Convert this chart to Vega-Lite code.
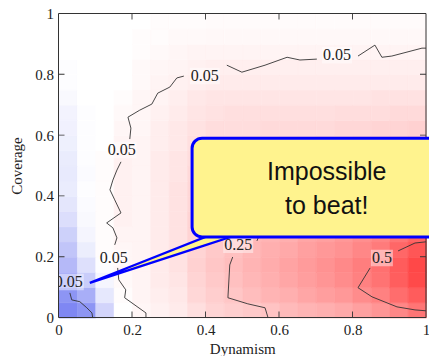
{
"$schema": "https://vega.github.io/schema/vega-lite/v6.json",
"width": 367.5, "height": 304,
"autosize": {"type": "none"},
"padding": {"left": 58.5, "top": 13.5, "right": 3, "bottom": 38.5},
"background": "white",
"config": {
"view": {"stroke": null},
"axis": {"domain": false, "ticks": false, "grid": false, "labelFlush": false, "labelOverlap": false, "labelFont": "Liberation Serif", "labelFontSize": 15, "labelColor": "#222222", "labelPadding": 5, "titleFont": "Liberation Serif", "titleFontSize": 15, "titleFontWeight": "normal", "titleColor": "#222222"},
"axisX": {"titlePadding": 4},
"axisY": {"titlePadding": 10}
},
"datasets": {
"heat": [
{"x":0.025,"y":0.025,"v":-0.62},{"x":0.075,"y":0.025,"v":-0.55},{"x":0.125,"y":0.025,"v":-0.22},{"x":0.175,"y":0.025,"v":0.0},{"x":0.225,"y":0.025,"v":0.03},{"x":0.275,"y":0.025,"v":0.05},{"x":0.325,"y":0.025,"v":0.07},{"x":0.375,"y":0.025,"v":0.11},{"x":0.425,"y":0.025,"v":0.15},{"x":0.475,"y":0.025,"v":0.17},{"x":0.525,"y":0.025,"v":0.19},{"x":0.575,"y":0.025,"v":0.21},{"x":0.625,"y":0.025,"v":0.24},{"x":0.675,"y":0.025,"v":0.26},{"x":0.725,"y":0.025,"v":0.28},{"x":0.775,"y":0.025,"v":0.30},{"x":0.825,"y":0.025,"v":0.33},{"x":0.875,"y":0.025,"v":0.37},{"x":0.925,"y":0.025,"v":0.42},{"x":0.975,"y":0.025,"v":0.48},
{"x":0.025,"y":0.075,"v":-0.55},{"x":0.075,"y":0.075,"v":-0.42},{"x":0.125,"y":0.075,"v":-0.12},{"x":0.175,"y":0.075,"v":0.01},{"x":0.225,"y":0.075,"v":0.04},{"x":0.275,"y":0.075,"v":0.06},{"x":0.325,"y":0.075,"v":0.08},{"x":0.375,"y":0.075,"v":0.14},{"x":0.425,"y":0.075,"v":0.17},{"x":0.475,"y":0.075,"v":0.20},{"x":0.525,"y":0.075,"v":0.23},{"x":0.575,"y":0.075,"v":0.26},{"x":0.625,"y":0.075,"v":0.28},{"x":0.675,"y":0.075,"v":0.31},{"x":0.725,"y":0.075,"v":0.34},{"x":0.775,"y":0.075,"v":0.36},{"x":0.825,"y":0.075,"v":0.40},{"x":0.875,"y":0.075,"v":0.44},{"x":0.925,"y":0.075,"v":0.51},{"x":0.975,"y":0.075,"v":0.57},
{"x":0.025,"y":0.125,"v":-0.45},{"x":0.075,"y":0.125,"v":-0.26},{"x":0.125,"y":0.125,"v":-0.05},{"x":0.175,"y":0.125,"v":0.02},{"x":0.225,"y":0.125,"v":0.04},{"x":0.275,"y":0.125,"v":0.07},{"x":0.325,"y":0.125,"v":0.09},{"x":0.375,"y":0.125,"v":0.15},{"x":0.425,"y":0.125,"v":0.19},{"x":0.475,"y":0.125,"v":0.22},{"x":0.525,"y":0.125,"v":0.25},{"x":0.575,"y":0.125,"v":0.28},{"x":0.625,"y":0.125,"v":0.31},{"x":0.675,"y":0.125,"v":0.34},{"x":0.725,"y":0.125,"v":0.37},{"x":0.775,"y":0.125,"v":0.40},{"x":0.825,"y":0.125,"v":0.44},{"x":0.875,"y":0.125,"v":0.49},{"x":0.925,"y":0.125,"v":0.56},{"x":0.975,"y":0.125,"v":0.63},
{"x":0.025,"y":0.175,"v":-0.36},{"x":0.075,"y":0.175,"v":-0.16},{"x":0.125,"y":0.175,"v":-0.01},{"x":0.175,"y":0.175,"v":0.03},{"x":0.225,"y":0.175,"v":0.04},{"x":0.275,"y":0.175,"v":0.07},{"x":0.325,"y":0.175,"v":0.10},{"x":0.375,"y":0.175,"v":0.16},{"x":0.425,"y":0.175,"v":0.20},{"x":0.475,"y":0.175,"v":0.23},{"x":0.525,"y":0.175,"v":0.26},{"x":0.575,"y":0.175,"v":0.29},{"x":0.625,"y":0.175,"v":0.32},{"x":0.675,"y":0.175,"v":0.35},{"x":0.725,"y":0.175,"v":0.38},{"x":0.775,"y":0.175,"v":0.41},{"x":0.825,"y":0.175,"v":0.45},{"x":0.875,"y":0.175,"v":0.50},{"x":0.925,"y":0.175,"v":0.57},{"x":0.975,"y":0.175,"v":0.64},
{"x":0.025,"y":0.225,"v":-0.3},{"x":0.075,"y":0.225,"v":-0.09},{"x":0.125,"y":0.225,"v":0.01},{"x":0.175,"y":0.225,"v":0.03},{"x":0.225,"y":0.225,"v":0.04},{"x":0.275,"y":0.225,"v":0.07},{"x":0.325,"y":0.225,"v":0.10},{"x":0.375,"y":0.225,"v":0.15},{"x":0.425,"y":0.225,"v":0.19},{"x":0.475,"y":0.225,"v":0.22},{"x":0.525,"y":0.225,"v":0.25},{"x":0.575,"y":0.225,"v":0.28},{"x":0.625,"y":0.225,"v":0.30},{"x":0.675,"y":0.225,"v":0.33},{"x":0.725,"y":0.225,"v":0.36},{"x":0.775,"y":0.225,"v":0.38},{"x":0.825,"y":0.225,"v":0.42},{"x":0.875,"y":0.225,"v":0.46},{"x":0.925,"y":0.225,"v":0.53},{"x":0.975,"y":0.225,"v":0.59},
{"x":0.025,"y":0.275,"v":-0.24},{"x":0.075,"y":0.275,"v":-0.05},{"x":0.125,"y":0.275,"v":0.01},{"x":0.175,"y":0.275,"v":0.04},{"x":0.225,"y":0.275,"v":0.04},{"x":0.275,"y":0.275,"v":0.07},{"x":0.325,"y":0.275,"v":0.10},{"x":0.375,"y":0.275,"v":0.15},{"x":0.425,"y":0.275,"v":0.19},{"x":0.475,"y":0.275,"v":0.21},{"x":0.525,"y":0.275,"v":0.24},{"x":0.575,"y":0.275,"v":0.26},{"x":0.625,"y":0.275,"v":0.28},{"x":0.675,"y":0.275,"v":0.31},{"x":0.725,"y":0.275,"v":0.33},{"x":0.775,"y":0.275,"v":0.36},{"x":0.825,"y":0.275,"v":0.39},{"x":0.875,"y":0.275,"v":0.43},{"x":0.925,"y":0.275,"v":0.48},{"x":0.975,"y":0.275,"v":0.54},
{"x":0.025,"y":0.325,"v":-0.17},{"x":0.075,"y":0.325,"v":-0.03},{"x":0.125,"y":0.325,"v":0.01},{"x":0.175,"y":0.325,"v":0.05},{"x":0.225,"y":0.325,"v":0.04},{"x":0.275,"y":0.325,"v":0.07},{"x":0.325,"y":0.325,"v":0.10},{"x":0.375,"y":0.325,"v":0.15},{"x":0.425,"y":0.325,"v":0.18},{"x":0.475,"y":0.325,"v":0.20},{"x":0.525,"y":0.325,"v":0.22},{"x":0.575,"y":0.325,"v":0.24},{"x":0.625,"y":0.325,"v":0.26},{"x":0.675,"y":0.325,"v":0.28},{"x":0.725,"y":0.325,"v":0.30},{"x":0.775,"y":0.325,"v":0.32},{"x":0.825,"y":0.325,"v":0.34},{"x":0.875,"y":0.325,"v":0.37},{"x":0.925,"y":0.325,"v":0.42},{"x":0.975,"y":0.325,"v":0.47},
{"x":0.025,"y":0.375,"v":-0.13},{"x":0.075,"y":0.375,"v":-0.02},{"x":0.125,"y":0.375,"v":0.01},{"x":0.175,"y":0.375,"v":0.05},{"x":0.225,"y":0.375,"v":0.04},{"x":0.275,"y":0.375,"v":0.07},{"x":0.325,"y":0.375,"v":0.10},{"x":0.375,"y":0.375,"v":0.14},{"x":0.425,"y":0.375,"v":0.17},{"x":0.475,"y":0.375,"v":0.19},{"x":0.525,"y":0.375,"v":0.20},{"x":0.575,"y":0.375,"v":0.22},{"x":0.625,"y":0.375,"v":0.23},{"x":0.675,"y":0.375,"v":0.25},{"x":0.725,"y":0.375,"v":0.26},{"x":0.775,"y":0.375,"v":0.28},{"x":0.825,"y":0.375,"v":0.30},{"x":0.875,"y":0.375,"v":0.32},{"x":0.925,"y":0.375,"v":0.36},{"x":0.975,"y":0.375,"v":0.39},
{"x":0.025,"y":0.425,"v":-0.1},{"x":0.075,"y":0.425,"v":-0.01},{"x":0.125,"y":0.425,"v":0.01},{"x":0.175,"y":0.425,"v":0.05},{"x":0.225,"y":0.425,"v":0.04},{"x":0.275,"y":0.425,"v":0.07},{"x":0.325,"y":0.425,"v":0.10},{"x":0.375,"y":0.425,"v":0.14},{"x":0.425,"y":0.425,"v":0.16},{"x":0.475,"y":0.425,"v":0.18},{"x":0.525,"y":0.425,"v":0.19},{"x":0.575,"y":0.425,"v":0.20},{"x":0.625,"y":0.425,"v":0.21},{"x":0.675,"y":0.425,"v":0.22},{"x":0.725,"y":0.425,"v":0.24},{"x":0.775,"y":0.425,"v":0.25},{"x":0.825,"y":0.425,"v":0.26},{"x":0.875,"y":0.425,"v":0.28},{"x":0.925,"y":0.425,"v":0.31},{"x":0.975,"y":0.425,"v":0.34},
{"x":0.025,"y":0.475,"v":-0.11},{"x":0.075,"y":0.475,"v":-0.02},{"x":0.125,"y":0.475,"v":0.01},{"x":0.175,"y":0.475,"v":0.05},{"x":0.225,"y":0.475,"v":0.04},{"x":0.275,"y":0.475,"v":0.07},{"x":0.325,"y":0.475,"v":0.09},{"x":0.375,"y":0.475,"v":0.13},{"x":0.425,"y":0.475,"v":0.15},{"x":0.475,"y":0.475,"v":0.16},{"x":0.525,"y":0.475,"v":0.17},{"x":0.575,"y":0.475,"v":0.18},{"x":0.625,"y":0.475,"v":0.18},{"x":0.675,"y":0.475,"v":0.19},{"x":0.725,"y":0.475,"v":0.20},{"x":0.775,"y":0.475,"v":0.21},{"x":0.825,"y":0.475,"v":0.22},{"x":0.875,"y":0.475,"v":0.24},{"x":0.925,"y":0.475,"v":0.26},{"x":0.975,"y":0.475,"v":0.28},
{"x":0.025,"y":0.525,"v":-0.1},{"x":0.075,"y":0.525,"v":-0.01},{"x":0.125,"y":0.525,"v":0.01},{"x":0.175,"y":0.525,"v":0.05},{"x":0.225,"y":0.525,"v":0.04},{"x":0.275,"y":0.525,"v":0.07},{"x":0.325,"y":0.525,"v":0.09},{"x":0.375,"y":0.525,"v":0.12},{"x":0.425,"y":0.525,"v":0.14},{"x":0.475,"y":0.525,"v":0.15},{"x":0.525,"y":0.525,"v":0.16},{"x":0.575,"y":0.525,"v":0.16},{"x":0.625,"y":0.525,"v":0.17},{"x":0.675,"y":0.525,"v":0.18},{"x":0.725,"y":0.525,"v":0.18},{"x":0.775,"y":0.525,"v":0.19},{"x":0.825,"y":0.525,"v":0.20},{"x":0.875,"y":0.525,"v":0.21},{"x":0.925,"y":0.525,"v":0.22},{"x":0.975,"y":0.525,"v":0.24},
{"x":0.025,"y":0.575,"v":-0.08},{"x":0.075,"y":0.575,"v":-0.01},{"x":0.125,"y":0.575,"v":0.0},{"x":0.175,"y":0.575,"v":0.04},{"x":0.225,"y":0.575,"v":0.04},{"x":0.275,"y":0.575,"v":0.06},{"x":0.325,"y":0.575,"v":0.08},{"x":0.375,"y":0.575,"v":0.11},{"x":0.425,"y":0.575,"v":0.13},{"x":0.475,"y":0.575,"v":0.13},{"x":0.525,"y":0.575,"v":0.14},{"x":0.575,"y":0.575,"v":0.14},{"x":0.625,"y":0.575,"v":0.15},{"x":0.675,"y":0.575,"v":0.15},{"x":0.725,"y":0.575,"v":0.16},{"x":0.775,"y":0.575,"v":0.16},{"x":0.825,"y":0.575,"v":0.17},{"x":0.875,"y":0.575,"v":0.17},{"x":0.925,"y":0.575,"v":0.18},{"x":0.975,"y":0.575,"v":0.20},
{"x":0.025,"y":0.625,"v":-0.07},{"x":0.075,"y":0.625,"v":-0.01},{"x":0.125,"y":0.625,"v":0.0},{"x":0.175,"y":0.625,"v":0.03},{"x":0.225,"y":0.625,"v":0.03},{"x":0.275,"y":0.625,"v":0.06},{"x":0.325,"y":0.625,"v":0.08},{"x":0.375,"y":0.625,"v":0.10},{"x":0.425,"y":0.625,"v":0.12},{"x":0.475,"y":0.625,"v":0.12},{"x":0.525,"y":0.625,"v":0.12},{"x":0.575,"y":0.625,"v":0.13},{"x":0.625,"y":0.625,"v":0.13},{"x":0.675,"y":0.625,"v":0.13},{"x":0.725,"y":0.625,"v":0.13},{"x":0.775,"y":0.625,"v":0.14},{"x":0.825,"y":0.625,"v":0.14},{"x":0.875,"y":0.625,"v":0.15},{"x":0.925,"y":0.625,"v":0.15},{"x":0.975,"y":0.625,"v":0.16},
{"x":0.025,"y":0.675,"v":-0.06},{"x":0.075,"y":0.675,"v":-0.01},{"x":0.125,"y":0.675,"v":0.0},{"x":0.175,"y":0.675,"v":0.02},{"x":0.225,"y":0.675,"v":0.03},{"x":0.275,"y":0.675,"v":0.05},{"x":0.325,"y":0.675,"v":0.07},{"x":0.375,"y":0.675,"v":0.09},{"x":0.425,"y":0.675,"v":0.10},{"x":0.475,"y":0.675,"v":0.11},{"x":0.525,"y":0.675,"v":0.11},{"x":0.575,"y":0.675,"v":0.11},{"x":0.625,"y":0.675,"v":0.11},{"x":0.675,"y":0.675,"v":0.11},{"x":0.725,"y":0.675,"v":0.11},{"x":0.775,"y":0.675,"v":0.12},{"x":0.825,"y":0.675,"v":0.12},{"x":0.875,"y":0.675,"v":0.12},{"x":0.925,"y":0.675,"v":0.13},{"x":0.975,"y":0.675,"v":0.13},
{"x":0.025,"y":0.725,"v":-0.03},{"x":0.075,"y":0.725,"v":0.0},{"x":0.125,"y":0.725,"v":0.0},{"x":0.175,"y":0.725,"v":0.01},{"x":0.225,"y":0.725,"v":0.03},{"x":0.275,"y":0.725,"v":0.04},{"x":0.325,"y":0.725,"v":0.06},{"x":0.375,"y":0.725,"v":0.08},{"x":0.425,"y":0.725,"v":0.09},{"x":0.475,"y":0.725,"v":0.09},{"x":0.525,"y":0.725,"v":0.09},{"x":0.575,"y":0.725,"v":0.09},{"x":0.625,"y":0.725,"v":0.09},{"x":0.675,"y":0.725,"v":0.09},{"x":0.725,"y":0.725,"v":0.09},{"x":0.775,"y":0.725,"v":0.09},{"x":0.825,"y":0.725,"v":0.09},{"x":0.875,"y":0.725,"v":0.10},{"x":0.925,"y":0.725,"v":0.10},{"x":0.975,"y":0.725,"v":0.10},
{"x":0.025,"y":0.775,"v":-0.01},{"x":0.075,"y":0.775,"v":0.0},{"x":0.125,"y":0.775,"v":0.0},{"x":0.175,"y":0.775,"v":0.0},{"x":0.225,"y":0.775,"v":0.02},{"x":0.275,"y":0.775,"v":0.04},{"x":0.325,"y":0.775,"v":0.05},{"x":0.375,"y":0.775,"v":0.06},{"x":0.425,"y":0.775,"v":0.07},{"x":0.475,"y":0.775,"v":0.07},{"x":0.525,"y":0.775,"v":0.07},{"x":0.575,"y":0.775,"v":0.07},{"x":0.625,"y":0.775,"v":0.07},{"x":0.675,"y":0.775,"v":0.07},{"x":0.725,"y":0.775,"v":0.07},{"x":0.775,"y":0.775,"v":0.07},{"x":0.825,"y":0.775,"v":0.07},{"x":0.875,"y":0.775,"v":0.07},{"x":0.925,"y":0.775,"v":0.07},{"x":0.975,"y":0.775,"v":0.07},
{"x":0.025,"y":0.825,"v":-0.01},{"x":0.075,"y":0.825,"v":0.0},{"x":0.125,"y":0.825,"v":0.0},{"x":0.175,"y":0.825,"v":0.0},{"x":0.225,"y":0.825,"v":0.02},{"x":0.275,"y":0.825,"v":0.03},{"x":0.325,"y":0.825,"v":0.04},{"x":0.375,"y":0.825,"v":0.05},{"x":0.425,"y":0.825,"v":0.055},{"x":0.475,"y":0.825,"v":0.055},{"x":0.525,"y":0.825,"v":0.055},{"x":0.575,"y":0.825,"v":0.055},{"x":0.625,"y":0.825,"v":0.055},{"x":0.675,"y":0.825,"v":0.055},{"x":0.725,"y":0.825,"v":0.055},{"x":0.775,"y":0.825,"v":0.055},{"x":0.825,"y":0.825,"v":0.055},{"x":0.875,"y":0.825,"v":0.055},{"x":0.925,"y":0.825,"v":0.055},{"x":0.975,"y":0.825,"v":0.055},
{"x":0.025,"y":0.875,"v":0.0},{"x":0.075,"y":0.875,"v":0.0},{"x":0.125,"y":0.875,"v":0.0},{"x":0.175,"y":0.875,"v":0.0},{"x":0.225,"y":0.875,"v":0.01},{"x":0.275,"y":0.875,"v":0.02},{"x":0.325,"y":0.875,"v":0.03},{"x":0.375,"y":0.875,"v":0.04},{"x":0.425,"y":0.875,"v":0.04},{"x":0.475,"y":0.875,"v":0.04},{"x":0.525,"y":0.875,"v":0.04},{"x":0.575,"y":0.875,"v":0.04},{"x":0.625,"y":0.875,"v":0.04},{"x":0.675,"y":0.875,"v":0.04},{"x":0.725,"y":0.875,"v":0.04},{"x":0.775,"y":0.875,"v":0.04},{"x":0.825,"y":0.875,"v":0.04},{"x":0.875,"y":0.875,"v":0.04},{"x":0.925,"y":0.875,"v":0.04},{"x":0.975,"y":0.875,"v":0.04},
{"x":0.025,"y":0.925,"v":0.0},{"x":0.075,"y":0.925,"v":0.0},{"x":0.125,"y":0.925,"v":0.0},{"x":0.175,"y":0.925,"v":0.0},{"x":0.225,"y":0.925,"v":0.01},{"x":0.275,"y":0.925,"v":0.01},{"x":0.325,"y":0.925,"v":0.02},{"x":0.375,"y":0.925,"v":0.02},{"x":0.425,"y":0.925,"v":0.025},{"x":0.475,"y":0.925,"v":0.025},{"x":0.525,"y":0.925,"v":0.025},{"x":0.575,"y":0.925,"v":0.025},{"x":0.625,"y":0.925,"v":0.025},{"x":0.675,"y":0.925,"v":0.025},{"x":0.725,"y":0.925,"v":0.025},{"x":0.775,"y":0.925,"v":0.025},{"x":0.825,"y":0.925,"v":0.025},{"x":0.875,"y":0.925,"v":0.025},{"x":0.925,"y":0.925,"v":0.025},{"x":0.975,"y":0.925,"v":0.025},
{"x":0.025,"y":0.975,"v":0.0},{"x":0.075,"y":0.975,"v":0.0},{"x":0.125,"y":0.975,"v":0.0},{"x":0.175,"y":0.975,"v":0.0},{"x":0.225,"y":0.975,"v":0.0},{"x":0.275,"y":0.975,"v":0.01},{"x":0.325,"y":0.975,"v":0.01},{"x":0.375,"y":0.975,"v":0.01},{"x":0.425,"y":0.975,"v":0.015},{"x":0.475,"y":0.975,"v":0.015},{"x":0.525,"y":0.975,"v":0.015},{"x":0.575,"y":0.975,"v":0.015},{"x":0.625,"y":0.975,"v":0.015},{"x":0.675,"y":0.975,"v":0.015},{"x":0.725,"y":0.975,"v":0.015},{"x":0.775,"y":0.975,"v":0.015},{"x":0.825,"y":0.975,"v":0.015},{"x":0.875,"y":0.975,"v":0.015},{"x":0.925,"y":0.975,"v":0.015},{"x":0.975,"y":0.975,"v":0.015}
],
"cont": [
{"s":"A1","i":0,"x":0.238,"y":0.0},{"s":"A1","i":1,"x":0.238,"y":0.015},{"s":"A1","i":2,"x":0.180,"y":0.065},{"s":"A1","i":3,"x":0.183,"y":0.091},{"s":"A1","i":4,"x":0.164,"y":0.124},{"s":"A1","i":5,"x":0.161,"y":0.163},
{"s":"A2","i":0,"x":0.153,"y":0.239},{"s":"A2","i":1,"x":0.159,"y":0.262},{"s":"A2","i":2,"x":0.148,"y":0.295},{"s":"A2","i":3,"x":0.131,"y":0.311},{"s":"A2","i":4,"x":0.170,"y":0.344},{"s":"A2","i":5,"x":0.153,"y":0.387},{"s":"A2","i":6,"x":0.140,"y":0.420},{"s":"A2","i":7,"x":0.148,"y":0.452},{"s":"A2","i":8,"x":0.159,"y":0.485},{"s":"A2","i":9,"x":0.170,"y":0.512},
{"s":"A3","i":0,"x":0.194,"y":0.587},{"s":"A3","i":1,"x":0.197,"y":0.623},{"s":"A3","i":2,"x":0.189,"y":0.659},{"s":"A3","i":3,"x":0.221,"y":0.682},{"s":"A3","i":4,"x":0.254,"y":0.702},{"s":"A3","i":5,"x":0.270,"y":0.738},{"s":"A3","i":6,"x":0.303,"y":0.758},{"s":"A3","i":7,"x":0.322,"y":0.788},{"s":"A3","i":8,"x":0.341,"y":0.794},
{"s":"A4","i":0,"x":0.458,"y":0.830},{"s":"A4","i":1,"x":0.499,"y":0.807},{"s":"A4","i":2,"x":0.562,"y":0.830},{"s":"A4","i":3,"x":0.622,"y":0.856},{"s":"A4","i":4,"x":0.657,"y":0.847},{"s":"A4","i":5,"x":0.703,"y":0.850},
{"s":"A5","i":0,"x":0.815,"y":0.860},{"s":"A5","i":1,"x":0.861,"y":0.896},{"s":"A5","i":2,"x":0.880,"y":0.856},{"s":"A5","i":3,"x":0.907,"y":0.860},{"s":"A5","i":4,"x":0.989,"y":0.886},{"s":"A5","i":5,"x":1.0,"y":0.886},
{"s":"B","i":0,"x":0.031,"y":0.081},{"s":"B","i":1,"x":0.036,"y":0.058},{"s":"B","i":2,"x":0.058,"y":0.052},{"s":"B","i":3,"x":0.077,"y":0.032},{"s":"B","i":4,"x":0.091,"y":0.015},{"s":"B","i":5,"x":0.093,"y":0.0},
{"s":"C0","i":0,"x":0.540,"y":0.252},{"s":"C0","i":1,"x":0.546,"y":0.270},
{"s":"C1","i":0,"x":0.474,"y":0.199},{"s":"C1","i":1,"x":0.466,"y":0.173},{"s":"C1","i":2,"x":0.461,"y":0.065},{"s":"C1","i":3,"x":0.515,"y":0.045},{"s":"C1","i":4,"x":0.562,"y":0.032},{"s":"C1","i":5,"x":0.570,"y":0.0},
{"s":"D1","i":0,"x":1.0,"y":0.249},{"s":"D1","i":1,"x":0.970,"y":0.245},{"s":"D1","i":2,"x":0.924,"y":0.219},
{"s":"D2","i":0,"x":0.848,"y":0.163},{"s":"D2","i":1,"x":0.815,"y":0.098},{"s":"D2","i":2,"x":0.853,"y":0.068},{"s":"D2","i":3,"x":0.921,"y":0.035},{"s":"D2","i":4,"x":0.970,"y":0.025},{"s":"D2","i":5,"x":1.0,"y":0.022}
],
"labels": [
{"t":"0.05","x":0.758,"y":0.863},{"t":"0.05","x":0.398,"y":0.794},{"t":"0.05","x":0.172,"y":0.551},{"t":"0.05","x":0.150,"y":0.196},{"t":"0.05","x":0.028,"y":0.117},{"t":"0.25","x":0.489,"y":0.239},{"t":"0.5","x":0.880,"y":0.196}
],
"tv": [
{"x":0.2,"y":0},{"x":0.4,"y":0},{"x":0.6,"y":0},{"x":0.8,"y":0},{"x":0.2,"y":1},{"x":0.4,"y":1},{"x":0.6,"y":1},{"x":0.8,"y":1}
],
"th": [
{"x":0,"y":0.2},{"x":0,"y":0.4},{"x":0,"y":0.6},{"x":0,"y":0.8},{"x":1,"y":0.2},{"x":1,"y":0.4},{"x":1,"y":0.6},{"x":1,"y":0.8}
],
"frame": [
{"x":0,"x2":1,"y":0,"y2":0},{"x":0,"x2":1,"y":1,"y2":1},{"x":0,"x2":0,"y":0,"y2":1},{"x":1,"x2":1,"y":0,"y2":1}
],
"wedge": [
{"x":0.0852,"y":0.114,"y2":0.114},{"x":0.400,"y":0.265,"y2":0.238},{"x":0.468,"y":0.265,"y2":0.265}
],
"box": [
{"x":0.3635,"x2":1.098,"y":0.265,"y2":0.590}
],
"boxtext": [
{"t":"Impossible","x":0.730,"y":0.452},{"t":"to beat!","x":0.730,"y":0.341}
]
},
"layer": [
{
"data": {"name": "frame"},
"mark": {"type": "rule", "opacity": 0},
"encoding": {
"x": {"field": "x", "type": "quantitative", "scale": {"domain": [0, 1], "nice": false, "zero": false}, "title": "Dynamism", "axis": {"values": [0, 0.2, 0.4, 0.6, 0.8, 1], "format": "~g"}},
"x2": {"field": "x2"},
"y": {"field": "y", "type": "quantitative", "scale": {"domain": [0, 1], "nice": false, "zero": false}, "title": "Coverage", "axis": {"values": [0, 0.2, 0.4, 0.6, 0.8, 1], "format": "~g"}},
"y2": {"field": "y2"}
}
},
{
"data": {"name": "heat"},
"mark": {"type": "rect", "strokeWidth": 0.6},
"encoding": {
"x": {"field": "x", "type": "quantitative", "bin": {"extent": [0, 1], "step": 0.05}, "scale": {"domain": [0, 1]}},
"y": {"field": "y", "type": "quantitative", "bin": {"extent": [0, 1], "step": 0.05}, "scale": {"domain": [0, 1]}},
"fill": {"field": "v", "type": "quantitative", "scale": {"domain": [-0.75, 0, 0.75], "range": ["#646ef0", "#ffffff", "#ff2828"], "interpolate": "rgb"}, "legend": null},
"stroke": {"field": "v", "type": "quantitative", "scale": {"domain": [-0.75, 0, 0.75], "range": ["#646ef0", "#ffffff", "#ff2828"], "interpolate": "rgb"}, "legend": null}
}
},
{
"data": {"name": "cont"},
"mark": {"type": "line", "color": "#333333", "strokeWidth": 0.9, "clip": true},
"encoding": {
"x": {"field": "x", "type": "quantitative"},
"y": {"field": "y", "type": "quantitative"},
"detail": {"field": "s"},
"order": {"field": "i", "type": "quantitative"}
}
},
{
"data": {"name": "labels"},
"mark": {"type": "point", "filled": true, "color": "#ffffff", "opacity": 0.45, "strokeWidth": 0, "clip": true},
"encoding": {
"x": {"field": "x", "type": "quantitative"},
"y": {"field": "y", "type": "quantitative"},
"shape": {"condition": {"test": "datum.t === '0.5'", "value": "M-1,-0.75L1,-0.75L1,0.75L-1,0.75Z"}, "value": "M-1,-0.55L1,-0.55L1,0.55L-1,0.55Z"},
"size": {"condition": {"test": "datum.t === '0.5'", "value": 484}, "value": 900}
}
},
{
"data": {"name": "labels"},
"mark": {"type": "text", "font": "Liberation Serif", "fontSize": 16, "color": "#222222", "align": "center", "baseline": "middle", "clip": true},
"encoding": {
"x": {"field": "x", "type": "quantitative"},
"y": {"field": "y", "type": "quantitative"},
"text": {"field": "t"}
}
},
{
"data": {"name": "tv"},
"mark": {"type": "tick", "orient": "vertical", "size": 12, "thickness": 0.9, "color": "#333333", "opacity": 1, "clip": true},
"encoding": {
"x": {"field": "x", "type": "quantitative"},
"y": {"field": "y", "type": "quantitative"}
}
},
{
"data": {"name": "th"},
"mark": {"type": "tick", "orient": "horizontal", "size": 12, "thickness": 0.9, "color": "#333333", "opacity": 1, "clip": true},
"encoding": {
"x": {"field": "x", "type": "quantitative"},
"y": {"field": "y", "type": "quantitative"}
}
},
{
"data": {"name": "frame"},
"mark": {"type": "rule", "color": "#333333", "strokeWidth": 1},
"encoding": {
"x": {"field": "x", "type": "quantitative"},
"x2": {"field": "x2"},
"y": {"field": "y", "type": "quantitative"},
"y2": {"field": "y2"}
}
},
{
"data": {"name": "wedge"},
"mark": {"type": "area", "orient": "vertical", "fill": "#fff38e", "fillOpacity": 1, "stroke": "#0000ff", "strokeWidth": 2.2, "strokeJoin": "miter"},
"encoding": {
"x": {"field": "x", "type": "quantitative"},
"y": {"field": "y", "type": "quantitative"},
"y2": {"field": "y2"}
}
},
{
"data": {"name": "box"},
"mark": {"type": "rect", "fill": "#fff38e", "stroke": "#0000ff", "strokeWidth": 3, "cornerRadius": 10},
"encoding": {
"x": {"field": "x", "type": "quantitative"},
"x2": {"field": "x2"},
"y": {"field": "y", "type": "quantitative"},
"y2": {"field": "y2"}
}
},
{
"data": {"name": "boxtext"},
"mark": {"type": "text", "font": "Liberation Sans", "fontSize": 25, "color": "#111111", "align": "center", "baseline": "alphabetic"},
"encoding": {
"x": {"field": "x", "type": "quantitative"},
"y": {"field": "y", "type": "quantitative"},
"text": {"field": "t"}
}
}
]
}
